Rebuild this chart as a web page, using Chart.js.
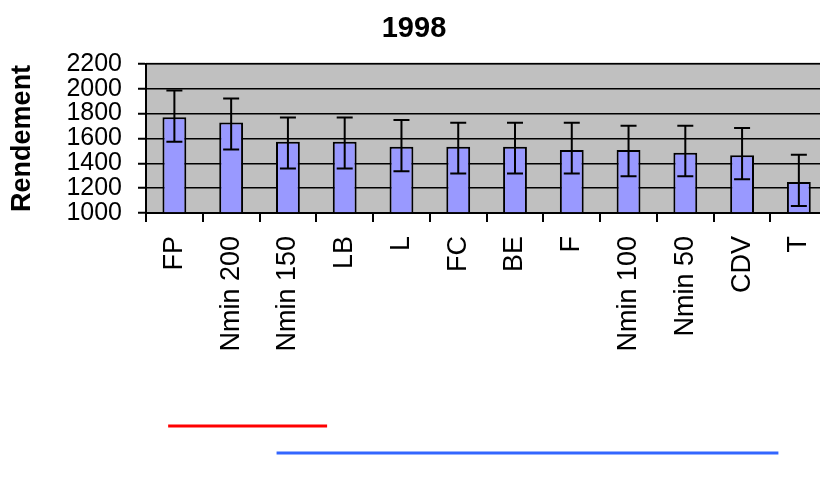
<!DOCTYPE html>
<html>
<head>
<meta charset="utf-8">
<script src="https://cdn.jsdelivr.net/npm/chart.js@4/dist/chart.umd.min.js"></script>
<style>
    html, body { margin: 0; padding: 0; background: #ffffff; overflow: hidden; }
    #wrap { width: 846px; height: 484px; position: relative; }
</style>
</head>
<body>
<div id="wrap"><canvas id="chartRendement"></canvas></div>
<script>
// Data 1998 - rendement per traitement
const categories = ['FP', 'Nmin 200', 'Nmin 150', 'LB', 'L', 'FC', 'BE', 'F', 'Nmin 100', 'Nmin 50', 'CDV', 'T'];
const rendement = [1770, 1727, 1573, 1573, 1533, 1533, 1533, 1506, 1506, 1484, 1465, 1250];
const errHigh = [1985, 1920, 1769, 1769, 1748, 1726, 1726, 1726, 1702, 1702, 1683, 1468];
const errLow = [1573, 1511, 1358, 1358, 1336, 1317, 1317, 1317, 1296, 1296, 1272, 1056];
const yTicks = [1000, 1200, 1400, 1600, 1800, 2000, 2200];

// significance groups (start / end in category index units)
const groupStart = [-0.11, 1.8];
const groupEnd = [2.69, 10.64];
const groupColors = ['#ff0000', '#3366ff'];

const FONT = '"Liberation Sans", Arial, sans-serif';

// fond gris de la zone de tracé + bord supérieur
const plotBackground = {
    id: 'plotBackground',
    beforeDraw: function (chart) {
        const a = chart.chartArea;
        const ctx = chart.ctx;
        ctx.save();
        ctx.fillStyle = '#c0c0c0';
        ctx.fillRect(a.left, a.top, a.right - a.left, a.bottom - a.top);
        ctx.strokeStyle = '#808080';
        ctx.lineWidth = 2;
        ctx.beginPath();
        ctx.moveTo(a.left, a.top);
        ctx.lineTo(a.right, a.top);
        ctx.stroke();
        ctx.restore();
    }
};

// barres d'erreur
const errorBars = {
    id: 'errorBars',
    afterDatasetsDraw: function (chart) {
        const ctx = chart.ctx;
        const x = chart.scales.x;
        const y = chart.scales.y;
        ctx.save();
        ctx.strokeStyle = '#000000';
        ctx.lineWidth = 2;
        categories.forEach(function (c, i) {
            const px = x.getPixelForValue(i);
            const top = y.getPixelForValue(errHigh[i]);
            const bot = y.getPixelForValue(errLow[i]);
            ctx.beginPath();
            ctx.moveTo(px, top);
            ctx.lineTo(px, bot);
            ctx.moveTo(px - 8, top);
            ctx.lineTo(px + 8, top);
            ctx.moveTo(px - 8, bot);
            ctx.lineTo(px + 8, bot);
            ctx.stroke();
        });
        ctx.restore();
    }
};

// traits de groupes sous le graphique
const groupLines = {
    id: 'groupLines',
    afterDraw: function (chart) {
        const ctx = chart.ctx;
        const x = chart.scales.x;
        ctx.save();
        ctx.lineWidth = 3;
        groupStart.forEach(function (s, i) {
            const yy = chart.chartArea.bottom + 213 + i * 27;
            ctx.strokeStyle = groupColors[i];
            ctx.beginPath();
            ctx.moveTo(x.getPixelForValue(s), yy);
            ctx.lineTo(x.getPixelForValue(groupEnd[i]), yy);
            ctx.stroke();
        });
        ctx.restore();
    }
};

new Chart(document.getElementById('chartRendement'), {
    type: 'bar',
    data: {
        labels: categories,
        datasets: [{
            label: 'Rendement',
            data: rendement,
            base: 1000,
            backgroundColor: '#9999ff',
            borderColor: '#000000',
            borderWidth: 2,
            barPercentage: 0.42,
            categoryPercentage: 1
        }]
    },
    options: {
        responsive: true,
        maintainAspectRatio: false,
        animation: false,
        layout: {
            padding: { left: 0, right: 18, top: 0, bottom: 0 }
        },
        plugins: {
            legend: { display: false },
            tooltip: { enabled: false },
            title: {
                display: true,
                text: '1998',
                color: '#000000',
                font: { family: FONT, size: 29, weight: 'bold' },
                padding: { top: 12, bottom: 17 }
            }
        },
        scales: {
            y: {
                min: 1000,
                max: 2200,
                afterBuildTicks: function (scale) {
                    scale.ticks = yTicks.map(function (v) { return { value: v }; });
                },
                afterFit: function (scale) {
                    scale.width = 146;
                },
                ticks: {
                    color: '#000000',
                    padding: 16,
                    autoSkip: false,
                    callback: function (v) { return String(v); },
                    font: { family: FONT, size: 25 }
                },
                grid: {
                    color: '#000000',
                    lineWidth: 1.5,
                    tickLength: 8,
                    tickWidth: 2,
                    tickColor: '#000000'
                },
                border: { color: '#000000', width: 2 },
                title: {
                    display: true,
                    text: 'Rendement',
                    color: '#000000',
                    font: { family: FONT, size: 27, weight: 'bold' },
                    padding: { top: 6, bottom: 0 }
                }
            },
            x: {
                afterFit: function (scale) {
                    scale.height = 271;
                },
                ticks: {
                    color: '#000000',
                    minRotation: 90,
                    maxRotation: 90,
                    autoSkip: false,
                    padding: 14,
                    font: { family: FONT, size: 27 }
                },
                grid: {
                    offset: true,
                    drawOnChartArea: false,
                    tickLength: 9,
                    lineWidth: 2,
                    color: '#000000'
                },
                border: { color: '#000000', width: 2 }
            }
        }
    },
    plugins: [plotBackground, errorBars, groupLines]
});
</script>
</body>
</html>
